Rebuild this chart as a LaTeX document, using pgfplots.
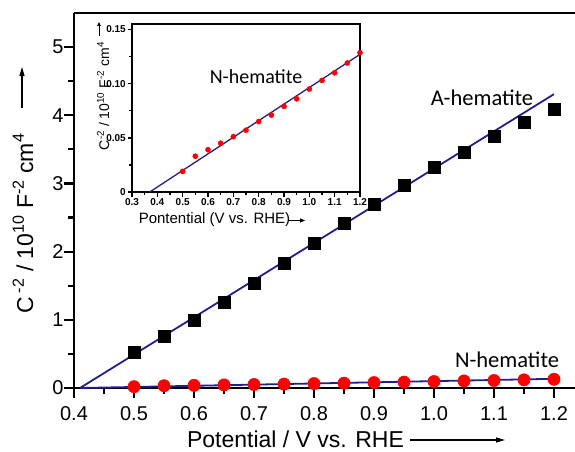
\documentclass[border=0pt]{standalone}
\usepackage{pgfplots}
\pgfplotsset{compat=1.18}
\usepackage{fontspec}
\setmainfont{Liberation Sans}
\newfontfamily\calfont{Carlito}
\newfontfamily\boldsans{Liberation Sans Bold}
\usetikzlibrary{arrows.meta}
\definecolor{navy}{RGB}{35,30,140}

\begin{document}
\begin{tikzpicture}
\path[use as bounding box] (0pt,0pt) rectangle (575pt,451pt);
% ---------- main axis ----------
\begin{axis}[
  at={(74pt,63pt)}, anchor=south west,
  scale only axis, width=501pt, height=375pt,
  xmin=0.4, xmax=1.235, ymin=0, ymax=5.5,
  axis x line*=bottom, axis y line*=left,
  axis line style={line width=2.7pt,-},
  xtick={0.4,0.5,0.6,0.7,0.8,0.9,1.0,1.1,1.2},
  xticklabels={0.4,0.5,0.6,0.7,0.8,0.9,1.0,1.1,1.2},
  ytick={0,1,2,3,4,5},
  yticklabels={0,1,2,3,4,5},
  minor x tick num=1, minor y tick num=1,
  tick align=outside,
  major tick length=10pt, minor tick length=6pt,
  every tick/.style={line width=2.2pt,black},
  ticklabel style={font=\fontsize{20}{20}\selectfont},
  xticklabel style={yshift=-5pt},
  yticklabel style={xshift=3pt},
  clip=false,
]
\draw[line width=2.7pt] (rel axis cs:0,1) -- (rel axis cs:1,1);
\addplot[navy, line width=1.8pt] coordinates {(0.41,0) (1.2,4.31)};
\addplot[only marks, mark=square*, mark size=6pt, black] coordinates {
(0.50,0.53) (0.55,0.76) (0.60,1.00) (0.65,1.26) (0.70,1.54) (0.75,1.83)
(0.80,2.13) (0.85,2.42) (0.90,2.70) (0.95,2.98) (1.00,3.24) (1.05,3.46)
(1.10,3.70) (1.15,3.90) (1.20,4.09)};
\addplot[only marks, mark=*, mark size=6.2pt, red, mark options={draw=red,fill=red}] coordinates {
(0.50,0.019) (0.55,0.033) (0.60,0.039) (0.65,0.045) (0.70,0.051) (0.75,0.057)
(0.80,0.065) (0.85,0.071) (0.90,0.079) (0.95,0.086) (1.00,0.095) (1.05,0.103)
(1.10,0.110) (1.15,0.119) (1.20,0.128)};
\addplot[navy, line width=1.8pt] coordinates {(0.41,0) (1.2,0.135)};
\end{axis}
% ---------- inset ----------
\begin{axis}[
  at={(132pt,259pt)}, anchor=south west,
  scale only axis, width=228pt, height=168pt,
  xmin=0.3, xmax=1.2, ymin=0, ymax=0.155,
  axis background/.style={fill=white},
  axis line style={line width=1.7pt},
  xtick={0.3,0.4,0.5,0.6,0.7,0.8,0.9,1.0,1.1,1.2},
  xticklabels={0.3,0.4,0.5,0.6,0.7,0.8,0.9,1.0,1.1,1.2},
  ytick={0,0.05,0.10,0.15},
  yticklabels={0,0.05,0.10,0.15},
  minor x tick num=1, minor y tick num=1,
  xtick pos=left, ytick pos=left,
  tick align=outside,
  major tick length=4.5pt, minor tick length=3pt,
  every tick/.style={line width=1.4pt,black},
  ticklabel style={font=\boldsans\fontsize{10}{10}\selectfont, inner sep=1.5pt},
  clip=false,
]
\addplot[only marks, mark=*, mark size=2.6pt, red, mark options={draw=red,fill=red}] coordinates {
(0.50,0.019) (0.55,0.033) (0.60,0.039) (0.65,0.045) (0.70,0.051) (0.75,0.057)
(0.80,0.065) (0.85,0.071) (0.90,0.079) (0.95,0.086) (1.00,0.095) (1.05,0.103)
(1.10,0.110) (1.15,0.119) (1.20,0.1285)};
\addplot[navy, line width=1.3pt] coordinates {(0.37,0) (1.2,0.127)};
\end{axis}
% ---------- text ----------
\node[font=\calfont\fontsize{22.5}{22.5}\selectfont] at (482pt,353pt) {A-hematite};
\node[font=\calfont\fontsize{22.5}{22.5}\selectfont] at (507pt,91pt) {N-hematite};
\node[font=\calfont\fontsize{20}{20}\selectfont] at (256pt,374pt) {N-hematite};
% main x label
\node[font=\fontsize{23}{23}\selectfont, anchor=base] at (295.5pt,4pt) {Potential / V vs. RHE};
\draw[line width=1.1pt, -{Triangle[length=9pt,width=5pt]}] (410pt,11pt) -- (505pt,11pt);
% main y label
\node[font=\fontsize{23}{23}\selectfont, anchor=base, rotate=90] at (33pt,227.5pt)
  {C\,\textsuperscript{-2} / 10\textsuperscript{10} F\textsuperscript{-2} cm\textsuperscript{4}};
\draw[line width=1.1pt, -{Triangle[length=9pt,width=5pt]}] (22pt,343pt) -- (22pt,384pt);
% inset x label
\node[font=\fontsize{15}{15}\selectfont] at (214.5pt,231pt) {Pontential (V vs. RHE)};
\draw[line width=0.9pt, -{Triangle[length=5pt,width=4pt]}] (289pt,230.5pt) -- (305pt,230.5pt);
% inset y label
\node[font=\fontsize{14}{14}\selectfont, anchor=base, rotate=90] at (109pt,355pt)
  {C\textsuperscript{-2} / 10\textsuperscript{10} F\textsuperscript{-2} cm\textsuperscript{4}};
\draw[line width=0.8pt, -{Triangle[length=4pt,width=3.5pt]}] (99pt,415pt) -- (99pt,429pt);
\end{tikzpicture}
\end{document}
